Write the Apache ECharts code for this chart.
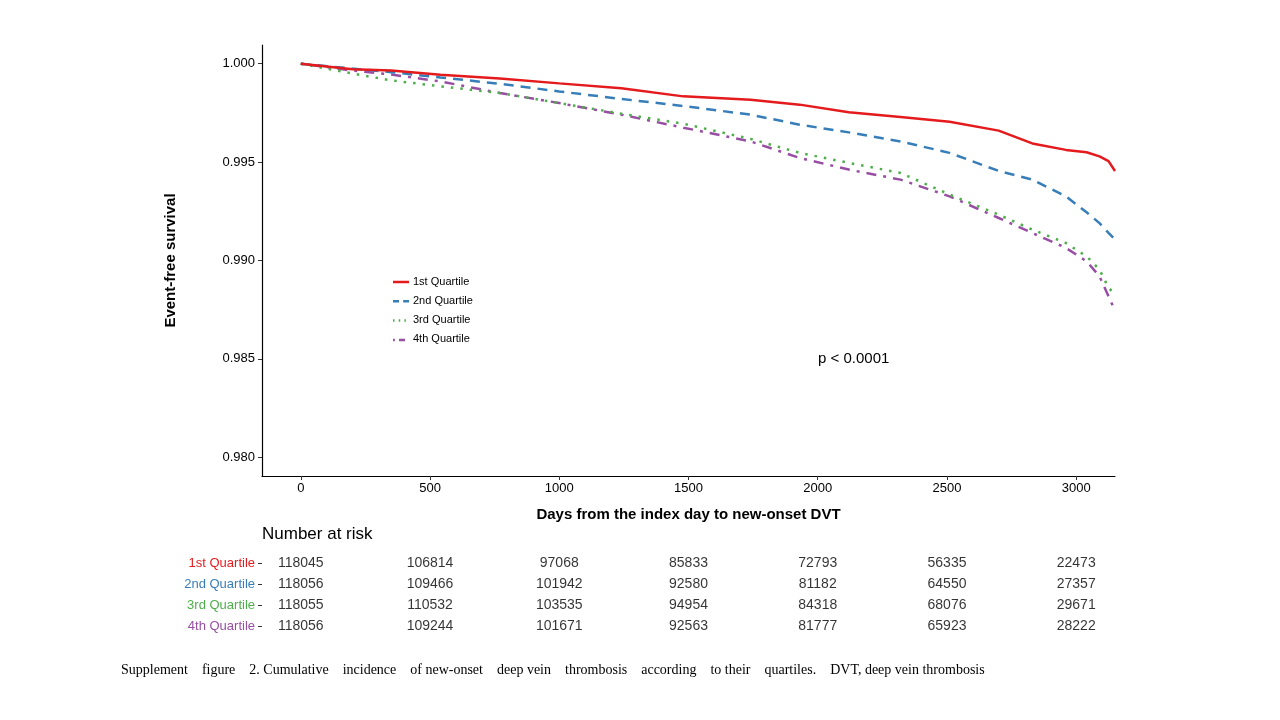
<!DOCTYPE html>
<html>
<head>
<meta charset="utf-8">
<script src="https://cdn.jsdelivr.net/npm/echarts@6/dist/echarts.min.js"></script>
<style>
  html, body { margin: 0; padding: 0; background: #fff; }
  #main { width: 1280px; height: 720px; }
</style>
</head>
<body>
<div id="main"></div>
<script>
// survival curves
var days = [0, 200, 350, 540, 770, 1000, 1240, 1480, 1740, 1930, 2120, 2320, 2510, 2700, 2830, 2960, 3040, 3090, 3125, 3150];
var q1 = [1.0000, 0.99972, 0.99966, 0.99944, 0.99925, 0.99900, 0.99875, 0.99834, 0.99817, 0.99792, 0.99753, 0.99729, 0.99705, 0.99660, 0.99595, 0.99562, 0.99550, 0.99529, 0.99505, 0.99455];
var q2 = [1.0000, 0.99975, 0.99957, 0.99930, 0.99898, 0.99859, 0.99821, 0.99785, 0.99741, 0.99690, 0.99651, 0.99605, 0.99547, 0.99455, 0.99411, 0.99326, 0.99245, 0.99190, 0.99140, 0.99106];
var q3 = [1.0000, 0.99950, 0.99915, 0.99885, 0.99851, 0.99800, 0.99746, 0.99695, 0.99618, 0.99547, 0.99496, 0.99445, 0.99335, 0.99233, 0.99157, 0.99089, 0.99021, 0.98954, 0.98861, 0.98830];
var q4 = [1.0000, 0.99965, 0.99945, 0.99910, 0.99851, 0.99800, 0.99741, 0.99675, 0.99605, 0.99521, 0.99462, 0.99411, 0.99326, 0.99216, 0.99140, 0.99064, 0.98996, 0.98920, 0.98818, 0.98745];

var groups = ['1st Quartile', '2nd Quartile', '3rd Quartile', '4th Quartile'];
var colors = ['#E41A1C', '#377EB8', '#4DAF4A', '#984EA3'];
var dashes = ['solid', [10, 7], [2.5, 7], [3, 7, 10, 7]];

// number at risk table
var riskDays = [0, 500, 1000, 1500, 2000, 2500, 3000];
var risk1 = [118045, 106814, 97068, 85833, 72793, 56335, 22473];
var risk2 = [118056, 109466, 101942, 92580, 81182, 64550, 27357];
var risk3 = [118055, 110532, 103535, 94954, 84318, 68076, 29671];
var risk4 = [118056, 109244, 101671, 92563, 81777, 65923, 28222];

var xTicks = [0, 500, 1000, 1500, 2000, 2500, 3000];
var yTicks = [0.980, 0.985, 0.990, 0.995, 1.000];

var font = 'Liberation Sans, Arial, sans-serif';
var myChart = echarts.init(document.getElementById('main'));

function zip(xs, ys) {
    var res = [];
    for (var i = 0; i < xs.length; i++) res.push([xs[i], ys[i]]);
    return res;
}

var curves = [q1, q2, q3, q4];
var series = [];
for (var i = 0; i < 4; i++) {
    series.push({
        name: groups[i],
        type: 'line',
        xAxisIndex: 0,
        yAxisIndex: 0,
        data: zip(days, curves[i]),
        showSymbol: false,
        symbol: 'none',
        lineStyle: { color: colors[i], width: 2.5, type: dashes[i] },
        z: 10 - i
    });
}

var risks = [risk1, risk2, risk3, risk4];
var riskData = [];
for (var r = 0; r < 4; r++) {
    for (var k = 0; k < riskDays.length; k++) {
        riskData.push([riskDays[k], groups[r], risks[r][k]]);
    }
}
series.push({
    type: 'scatter',
    xAxisIndex: 1,
    yAxisIndex: 1,
    data: riskData,
    symbolSize: 0,
    label: {
        show: true,
        position: 'inside',
        color: '#000',
        fontFamily: font,
        fontSize: 14,
        formatter: function (p) { return p.value[2]; }
    }
});

// legend drawn by hand to show dash patterns
var legendItems = [];
for (var j = 0; j < 4; j++) {
    var ly = 282 + j * 19.3;
    legendItems.push({
        type: 'line',
        shape: { x1: 393, y1: ly, x2: 409, y2: ly },
        style: { stroke: colors[j], lineWidth: 2.5, lineDash: dashes[j] === 'solid' ? null : dashes[j].map(function (d) { return d * 0.6; }) }
    });
    legendItems.push({
        type: 'text',
        left: 413,
        top: ly - 6,
        style: { text: groups[j], fill: '#000', font: '11px ' + font }
    });
}

option = {
    backgroundColor: '#fff',
    animation: false,
    grid: [
        { left: 262, top: 45, right: 165, bottom: 244 },
        { left: 262, top: 553, right: 165, height: 84 }
    ],
    xAxis: [
        {
            type: 'value', gridIndex: 0, min: -150, max: 3150,
            name: 'Days from the index day to new-onset DVT',
            nameLocation: 'middle', nameGap: 31,
            nameTextStyle: { fontFamily: font, fontSize: 15, fontWeight: 'bold', color: '#000' },
            splitLine: { show: false },
            axisLine: { onZero: false, lineStyle: { color: '#000', width: 1.2 } },
            axisTick: { show: true, length: 4, customValues: xTicks, lineStyle: { color: '#333' } },
            axisLabel: {
                customValues: xTicks, fontFamily: font, fontSize: 13, color: '#000', margin: 6,
                formatter: function (v) { return String(v); }
            }
        },
        {
            type: 'value', gridIndex: 1, min: -150, max: 3150, show: false
        }
    ],
    yAxis: [
        {
            type: 'value', gridIndex: 0, min: 0.97905, max: 1.00095,
            name: 'Event-free survival',
            nameLocation: 'middle', nameGap: 84, nameRotate: 90,
            nameTextStyle: { fontFamily: font, fontSize: 15, fontWeight: 'bold', color: '#000' },
            splitLine: { show: false },
            axisLine: { show: true, onZero: false, lineStyle: { color: '#000', width: 1.2 } },
            axisTick: { show: true, length: 4, customValues: yTicks, lineStyle: { color: '#333' } },
            axisLabel: {
                customValues: yTicks, fontFamily: font, fontSize: 13, color: '#000', margin: 7,
                formatter: function (v) { return v.toFixed(3); }
            }
        },
        {
            type: 'category', gridIndex: 1, data: groups, inverse: true,
            axisLine: { show: false, onZero: false },
            axisTick: { show: true, alignWithLabel: true, length: 4, lineStyle: { color: '#333' } },
            axisLabel: {
                fontFamily: font, fontSize: 13, margin: 7,
                color: function (v, idx) { return colors[groups.indexOf(v)]; }
            }
        }
    ],
    graphic: legendItems.concat([
        {
            type: 'text', left: 818, top: 351,
            style: { text: 'p < 0.0001', fill: '#000', font: '15px ' + font }
        },
        {
            type: 'text', left: 262, top: 526,
            style: { text: 'Number at risk', fill: '#000', font: '17px ' + font }
        },
        {
            type: 'text', left: 121, top: 663,
            style: {
                text: 'Supplement    figure    2. Cumulative    incidence    of new-onset    deep vein    thrombosis    according    to their    quartiles.    DVT, deep vein thrombosis',
                fill: '#000', font: '14px "Liberation Serif", "Times New Roman", serif'
            }
        }
    ]),
    series: series
};

myChart.setOption(option);
window.addEventListener('resize', function () {
    myChart.resize();
});
</script>
</body>
</html>
